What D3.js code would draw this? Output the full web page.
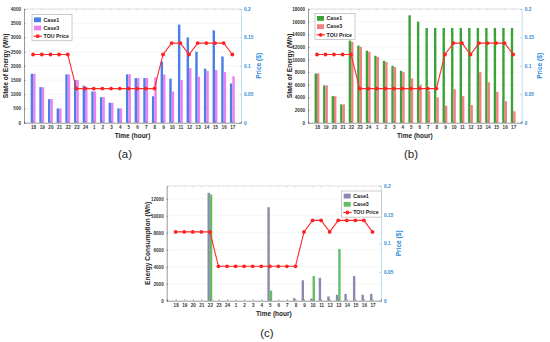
<!DOCTYPE html>
<html>
<head>
<meta charset="utf-8">
<script src="https://cdn.jsdelivr.net/npm/d3@7"></script>
<style>
  body { margin: 0; background: #fff; }
  svg { display: block; }
  text { font-family: "Liberation Sans", Arial, sans-serif; }
</style>
</head>
<body>
<script>
const W = 550;
const H = 342;

// hours on the x axis (day starts at 18:00)
const hours = ['18', '19', '20', '21', '22', '23', '24', '1', '2', '3', '4', '5', '6', '7', '8', '9', '10', '11', '12', '13', '14', '15', '16', '17'];
const touPrice = [0.12, 0.12, 0.12, 0.12, 0.12, 0.06, 0.06, 0.06, 0.06, 0.06, 0.06, 0.06, 0.06, 0.06, 0.06, 0.12, 0.14, 0.14, 0.12, 0.14, 0.14, 0.14, 0.14, 0.12];

// (a) state of energy
const socCase1A = [1720, 1250, 830, 500, 1700, 1500, 1300, 1100, 900, 700, 500, 1700, 1570, 1570, 930, 2150, 1550, 3450, 3000, 2500, 1900, 3250, 2330, 1380];
const socCase3A = [1720, 1250, 830, 500, 1700, 1500, 1270, 1100, 900, 700, 500, 1700, 1570, 1570, 1600, 1700, 1100, 1500, 1920, 1620, 1820, 1850, 1780, 1630];

// (b) state of energy
const socCase1B = [7800, 5900, 4200, 2900, 13000, 12200, 11400, 10600, 9800, 9000, 8200, 17000, 16000, 15000, 15000, 15000, 15000, 15000, 15000, 15000, 15000, 15000, 15000, 15000];
const socCase3B = [7800, 5900, 4200, 2900, 12800, 12000, 11200, 10400, 9600, 8800, 8000, 7000, 6000, 5000, 4000, 2700, 5300, 4200, 2800, 8000, 6400, 4900, 3400, 1800];

// (c) energy consumption
const useCase1C = [0, 0, 0, 0, 12700, 0, 0, 0, 0, 0, 0, 11000, 0, 0, 300, 2400, 250, 2700, 500, 700, 800, 2900, 700, 800];
const useCase3C = [0, 0, 0, 0, 12500, 0, 0, 0, 0, 0, 0, 1200, 0, 0, 0, 0, 2900, 0, 0, 6100, 0, 0, 0, 0];

const ticksA = [0, 500, 1000, 1500, 2000, 2500, 3000, 3500, 4000];
const ticksB = [0, 2000, 4000, 6000, 8000, 10000, 12000, 14000, 16000, 18000];
const ticksC = [0, 2000, 4000, 6000, 8000, 10000, 12000];
const priceTicks = [0, 0.05, 0.1, 0.15, 0.2];
const seriesNames = ['Case1', 'Case3', 'TOU Price'];

const svg = d3.select('body').append('svg')
  .attr('width', W)
  .attr('height', H);

const panels = [
  { x0: 24, x1: 241, y0: 9, y1: 122.7, yMax: 4000, ticks: ticksA, s1: socCase1A, s3: socCase3A,
    c1: '#4a7fe8', c3: '#ea80f2', ylabel: 'State of Energy (Wh)', caption: '(a)', capX: 125, capY: 158,
    leg: { x: 32, y: 14.7, w: 40 } },
  { x0: 308, x1: 521.7, y0: 9, y1: 122.7, yMax: 18000, ticks: ticksB, s1: socCase1B, s3: socCase3B,
    c1: '#3aa336', c3: '#f28080', ylabel: 'State of Energy (Wh)', caption: '(b)', capX: 411, capY: 158,
    leg: { x: 315, y: 13.3, w: 40 } },
  { x0: 166.7, x1: 381, y0: 186, y1: 300.7, yMax: 13500, ticks: ticksC, s1: useCase1C, s3: useCase3C,
    c1: '#8a8aae', c3: '#62c062', ylabel: 'Energy Consumption (Wh)', caption: '(c)', capX: 267, capY: 337,
    leg: { x: 341.7, y: 191, w: 40 } }
];

panels.forEach((p) => {
  const g = svg.append('g');
  const x = d3.scaleLinear().domain([-1.05, 24]).range([p.x0, p.x1]);
  const step = x(1) - x(0);
  const bw = step * 0.28;
  const y = d3.scaleLinear().domain([0, p.yMax]).range([p.y1, p.y0]);
  const yp = d3.scaleLinear().domain([0, 0.2]).range([p.y1, p.y0]);

  // grid
  g.append('g').selectAll('line')
    .data(p.ticks.slice(1))
    .enter().append('line')
    .attr('x1', p.x0).attr('x2', p.x1)
    .attr('y1', (d) => y(d)).attr('y2', (d) => y(d))
    .attr('stroke', '#ececec').attr('stroke-width', 0.5);

  // bars
  g.append('g').selectAll('rect')
    .data(p.s1)
    .enter().append('rect')
    .attr('x', (d, i) => x(i) - bw)
    .attr('y', (d) => y(d))
    .attr('width', bw)
    .attr('height', (d) => p.y1 - y(d))
    .attr('fill', p.c1);
  g.append('g').selectAll('rect')
    .data(p.s3)
    .enter().append('rect')
    .attr('x', (d, i) => x(i))
    .attr('y', (d) => y(d))
    .attr('width', bw)
    .attr('height', (d) => p.y1 - y(d))
    .attr('fill', p.c3);

  // price line
  const line = d3.line().x((d, i) => x(i)).y((d) => yp(d));
  g.append('path')
    .datum(touPrice)
    .attr('d', line)
    .attr('fill', 'none')
    .attr('stroke', '#ff2a2a')
    .attr('stroke-width', 1.1);
  g.append('g').selectAll('circle')
    .data(touPrice)
    .enter().append('circle')
    .attr('cx', (d, i) => x(i))
    .attr('cy', (d) => yp(d))
    .attr('r', 1.9)
    .attr('fill', '#ff2020');

  // frame: top
  g.append('line')
    .attr('x1', p.x0).attr('x2', p.x1).attr('y1', p.y0).attr('y2', p.y0)
    .attr('stroke', '#d0d0d0').attr('stroke-width', 0.6);
  g.append('g').selectAll('line')
    .data(hours)
    .enter().append('line')
    .attr('x1', (d, i) => x(i)).attr('x2', (d, i) => x(i))
    .attr('y1', p.y0).attr('y2', p.y0 + 1.5)
    .attr('stroke', '#bbb').attr('stroke-width', 0.5);

  // left axis
  const yAxis = g.append('g')
    .attr('transform', `translate(${p.x0},0)`)
    .call(d3.axisLeft(y).tickValues(p.ticks).tickSize(-1.5).tickPadding(3).tickFormat(d3.format('d')));
  yAxis.select('.domain').attr('stroke', '#555').attr('stroke-width', 0.6);
  yAxis.selectAll('.tick line').attr('stroke', '#555').attr('stroke-width', 0.5);
  yAxis.selectAll('text').attr('font-size', 4.6).attr('font-weight', 'bold').attr('fill', '#333');

  // right axis (price)
  const rAxis = g.append('g')
    .attr('transform', `translate(${p.x1},0)`)
    .call(d3.axisRight(yp).tickValues(priceTicks).tickSize(-1.5).tickPadding(3).tickFormat((d) => d === 0 ? '0' : String(d)));
  rAxis.select('.domain').attr('stroke', '#a9d0ee').attr('stroke-width', 0.7);
  rAxis.selectAll('.tick line').attr('stroke', '#5aa6e0').attr('stroke-width', 0.5);
  rAxis.selectAll('text').attr('font-size', 4.8).attr('font-weight', 'bold').attr('fill', '#2f8ad6');

  // bottom axis
  const xAxis = g.append('g')
    .attr('transform', `translate(0,${p.y1})`)
    .call(d3.axisBottom(x).tickValues(d3.range(hours.length)).tickSize(-1.5).tickPadding(3.5).tickFormat((i) => hours[i]));
  xAxis.select('.domain').attr('stroke', '#555').attr('stroke-width', 0.6);
  xAxis.selectAll('.tick line').attr('stroke', '#555').attr('stroke-width', 0.5);
  xAxis.selectAll('text').attr('font-size', 4.6).attr('font-weight', 'bold').attr('fill', '#333');

  // labels
  g.append('text')
    .attr('x', (p.x0 + p.x1) / 2)
    .attr('y', p.y1 + 15.5)
    .attr('text-anchor', 'middle')
    .attr('font-size', 6.5)
    .attr('font-weight', 'bold')
    .attr('fill', '#222')
    .text('Time (hour)');
  g.append('text')
    .attr('transform', `translate(${p.x0 - 16.5},${(p.y0 + p.y1) / 2}) rotate(-90)`)
    .attr('text-anchor', 'middle')
    .attr('font-size', 6.6)
    .attr('font-weight', 'bold')
    .attr('fill', '#222')
    .text(p.ylabel);
  g.append('text')
    .attr('transform', `translate(${p.x1 + 20},${(p.y0 + p.y1) / 2}) rotate(-90)`)
    .attr('text-anchor', 'middle')
    .attr('font-size', 6.6)
    .attr('font-weight', 'bold')
    .attr('fill', '#2f8ad6')
    .text('Price ($)');
  g.append('text')
    .attr('x', p.capX)
    .attr('y', p.capY)
    .attr('text-anchor', 'middle')
    .attr('font-family', '"Liberation Serif", serif')
    .attr('font-size', 11.5)
    .attr('fill', '#222')
    .text(p.caption);

  // legend
  const rowH = 8.2;
  const leg = g.append('g').attr('transform', `translate(${p.leg.x},${p.leg.y})`);
  leg.append('rect')
    .attr('width', p.leg.w).attr('height', rowH * 3 + 1.5)
    .attr('fill', '#fff').attr('stroke', '#999').attr('stroke-width', 0.5);
  const rows = leg.selectAll('g.row')
    .data(seriesNames)
    .enter().append('g')
    .attr('class', 'row')
    .attr('transform', (d, i) => `translate(0,${1 + rowH * i + rowH / 2})`);
  rows.filter((d, i) => i < 2).append('rect')
    .attr('x', 2).attr('y', -2.4).attr('width', 7).attr('height', 4.8)
    .attr('fill', (d, i) => i === 0 ? p.c1 : p.c3);
  const tou = rows.filter((d, i) => i === 2);
  tou.append('line')
    .attr('x1', 1.5).attr('x2', 10).attr('y1', 0).attr('y2', 0)
    .attr('stroke', '#ff2a2a').attr('stroke-width', 1.1);
  tou.append('circle').attr('cx', 5.7).attr('cy', 0).attr('r', 1.9).attr('fill', '#ff2020');
  rows.append('text')
    .attr('x', 11.5).attr('y', 1.8)
    .attr('font-size', 5.3)
    .attr('font-weight', 'bold')
    .attr('fill', '#222')
    .text((d) => d);
});
</script>
</body>
</html>
